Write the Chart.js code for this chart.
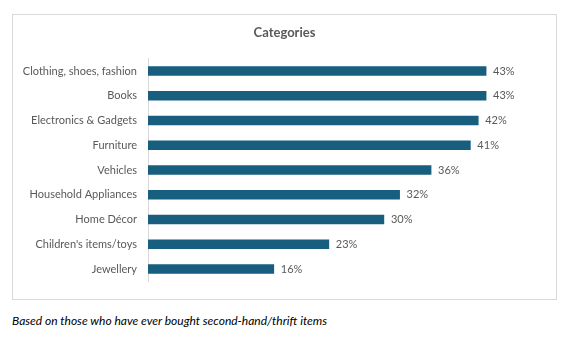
<!DOCTYPE html>
<html>
<head>
<meta charset="utf-8">
<script src="https://cdn.jsdelivr.net/npm/chart.js@4/dist/chart.umd.min.js"></script>
<style>
    html, body { margin: 0; padding: 0; background: #fff; }
    body { width: 569px; height: 342px; position: relative; overflow: hidden; }
    #frame {
        position: absolute; left: 12px; top: 14px;
        width: 543px; height: 284px;
        border: 1px solid #d9d9d9;
    }
    #frame canvas { display: block; }
    #note {
        position: absolute; left: 12px; top: 313px;
        font: italic 12px Lato, "Noto Sans", sans-serif;
        color: #000;
        white-space: nowrap;
    }
</style>
</head>
<body>
<div id="frame"><canvas id="barCanvas" width="543" height="284"></canvas></div>
<div id="note">Based on those who have ever bought second-hand/thrift items</div>

<script>
const categories = [
    "Clothing, shoes, fashion",
    "Books",
    "Electronics & Gadgets",
    "Furniture",
    "Vehicles",
    "Household Appliances",
    "Home Décor",
    "Children's items/toys",
    "Jewellery",
];
const shares = [43, 43, 42, 41, 36, 32, 30, 23, 16];

const BAR_COLOR = "#175e7f";
const TEXT_COLOR = "#595959";
const FONT = "Lato, 'Noto Sans', sans-serif";

// Writes "NN%" just past the end of every bar
const valueLabels = {
    id: "valueLabels",
    afterDatasetsDraw(chart) {
        const { ctx } = chart;
        const meta = chart.getDatasetMeta(0);
        ctx.save();
        ctx.font = "11px " + FONT;
        ctx.fillStyle = TEXT_COLOR;
        ctx.textAlign = "left";
        ctx.textBaseline = "middle";
        meta.data.forEach((bar, i) => {
            ctx.fillText(shares[i] + "%", bar.x + 7, bar.y);
        });
        ctx.restore();
    },
};

new Chart(document.getElementById("barCanvas"), {
    type: "bar",
    data: {
        labels: categories,
        datasets: [{
            data: shares,
            backgroundColor: BAR_COLOR,
            borderWidth: 0,
            barThickness: 9,
        }],
    },
    options: {
        indexAxis: "y",
        responsive: false,
        animation: false,
        layout: { padding: { left: 7, right: 7, bottom: 12 } },
        plugins: {
            legend: { display: false },
            tooltip: { enabled: false },
            title: {
                display: true,
                text: "Categories",
                color: TEXT_COLOR,
                font: { family: FONT, size: 13, weight: "bold" },
                padding: { top: 10, bottom: 18 },
            },
        },
        scales: {
            x: {
                display: false,
                min: 0,
                max: 51,
            },
            y: {
                grid: { display: false, drawTicks: false },
                border: { display: true, color: "#d9d9d9", width: 1 },
                ticks: {
                    color: TEXT_COLOR,
                    font: { family: FONT, size: 11 },
                    padding: 11,
                },
                afterFit(scale) {
                    scale.width = 128;
                },
            },
        },
    },
    plugins: [valueLabels],
});
</script>
</body>
</html>
